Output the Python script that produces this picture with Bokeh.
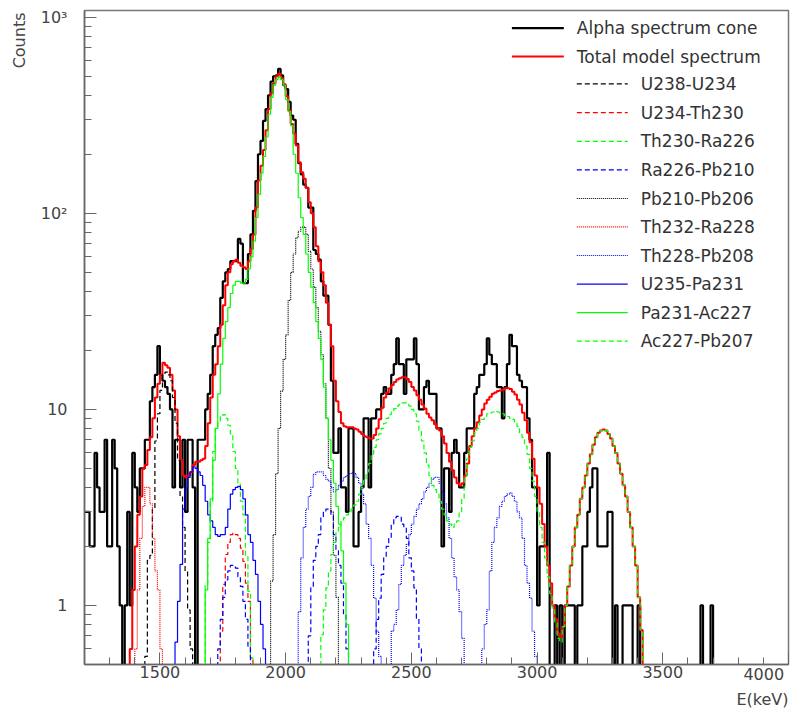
import numpy as np
from bokeh.plotting import figure
from bokeh.models import (Range1d, Label, Title, SingleIntervalTicker,
                          LogTicker, LinearAxis, FixedTicker)
from bokeh.embed import file_html
from bokeh.resources import INLINE

BIN_KEV = 10
E_LO, E_HI = 1200, 4000
Y_LO, Y_HI = 0.5, 1082

# measured alpha spectrum (counts per 10 keV bin, 1200..3990 keV)
data_start = 1200
data_counts = [
    3, 3, 2, 2, 6, 4, 3, 3, 7, 2,
    2, 7, 5, 2, 1, 0, 1, 3, 1, 6,
    4, 3, 5, 5, 7, 7, 11, 13, 15, 21,
    15, 14, 13, 12, 10, 4, 7, 7, 4, 7,
    3, 7, 7, 4, 0, 7, 7, 7, 10, 12,
    15, 21, 24, 26, 37, 45, 50, 52, 57, 57,
    57, 74, 70, 44, 44, 62, 78, 103, 146, 200,
    234, 296, 340, 400, 470, 500, 505, 545, 505, 450,
    430, 370, 315, 300, 226, 180, 158, 140, 135, 107,
    107, 65, 62, 58, 45, 38, 38, 27, 14, 6,
    6, 8, 4, 4, 3, 8, 8, 2, 2, 3,
    4, 9, 9, 4, 9, 9, 10, 10, 12, 13,
    12, 12, 15, 17, 23, 17, 17, 12, 18, 18,
    18, 23, 17, 10, 10, 13, 14, 12, 12, 12,
    8, 8, 2, 5, 5, 3, 6, 7, 6, 4,
    4, 6, 8, 8, 8, 12, 13, 15, 15, 17,
    23, 19, 17, 17, 13, 13, 9, 13, 17, 24,
    21, 21, 15, 14, 13, 13, 9, 7, 4, 4,
    1, 2, 2, 2, 6, 0, 0, 1, 0, 1,
    0, 1, 1, 1, 1, 0, 1, 1, 2, 2,
    3, 4, 5, 5, 2, 2, 2, 2, 3, 3,
    0, 1, 0, 0, 1, 1, 1, 1, 0, 0,
    1, 0, 0, 0, 0, 0, 0, 0, 0, 0,
    0, 0, 0, 0, 0, 0, 0, 0, 0, 0,
    0, 0, 0, 0, 0, 1, 0, 0, 0, 1,
    0, 0, 0, 0, 0, 0, 0, 0, 0, 0,
    0, 0, 0, 0, 0, 0, 0, 0, 0, 0,
    0, 0, 0, 0, 0, 0, 0, 0, 0, 0,
]

# total model spectrum, 1380..3410 keV
total_start = 1380
total_model = [
    0.6, 1.2, 2.0, 2.9, 3.6, 5.0, 5.2, 6.2, 7.2, 9.0,
    11.5, 13.5, 15.0, 17.3, 16.8, 16.3, 15.0, 12.5, 10.0, 7.3,
    5.5, 4.6, 4.5, 4.6, 4.8, 5.2, 5.4, 5.4, 5.5, 5.6,
    6.5, 8.5, 11.5, 15.0, 17.0, 21.0, 27.0, 34.0, 43.0, 50.0,
    55.0, 57.0, 58.0, 56.0, 54.0, 53.0, 52.0, 57.0, 66.0, 78.0,
    107.0, 147.0, 175.0, 210.0, 265.0, 340.0, 410.0, 460.0, 500.0, 515.0,
    490.0, 455.0, 395.0, 335.0, 285.0, 255.0, 222.0, 182.0, 162.0, 150.0,
    135.0, 114.0, 100.0, 85.0, 68.0, 57.0, 50.0, 43.0, 35.0, 27.0,
    21.0, 14.0, 11.0, 9.7, 8.5, 8.2, 8.1, 8.1, 8.1, 8.0,
    7.9, 7.7, 7.5, 7.3, 7.2, 7.1, 7.1, 7.4, 8.0, 8.9,
    10.2, 11.5, 12.2, 12.8, 13.3, 13.8, 14.2, 14.4, 14.6, 14.6,
    14.3, 13.8, 13.0, 12.5, 11.8, 11.2, 10.6, 10.1, 9.5, 9.1,
    8.8, 8.4, 8.0, 7.8, 7.3, 6.7, 6.0, 5.4, 4.9, 4.5,
    4.2, 4.1, 4.2, 4.6, 5.3, 6.5, 7.3, 8.0, 8.6, 9.3,
    10.0, 10.7, 11.2, 11.6, 12.0, 12.2, 12.4, 12.5, 12.6, 12.8,
    12.8, 12.7, 12.3, 11.9, 11.2, 10.6, 9.6, 8.8, 7.6, 6.8,
    5.6, 4.6, 4.0, 3.3, 2.6, 2.0, 1.6, 1.3, 1.0, 0.85,
    0.72, 0.69, 0.78, 1.0, 1.25, 1.6, 2.0, 2.5, 2.9, 3.5,
    4.0, 4.6, 5.3, 5.9, 6.6, 7.2, 7.6, 7.8, 7.9, 7.8,
    7.5, 7.1, 6.5, 6.0, 5.3, 4.7, 4.1, 3.6, 3.0, 2.5,
    2.0, 1.6, 1.1, 0.75,
]

# model components: (first bin keV, values per 10 keV bin)
u238_u234 = [(1440, [0.55, 1.7, 1.8, 3.1, 6.9, 9.5, 12.5, 15.0, 15.5, 15.0,
                     14.0, 11.5, 8.5, 5.5, 3.6, 2.5, 1.5, 0.95, 0.6])]
u234_th230 = [(1740, [0.74, 1.28, 1.82, 2.1, 2.3, 2.34, 2.3, 2.2, 1.96, 1.68,
                      1.3, 1.05, 0.54])]
th230_ra226 = [(1680, [1.27, 2.1, 3.4, 6.1, 8.0, 8.7, 9.2, 9.4, 9.0, 8.3,
                       7.5, 6.1, 5.0, 4.2, 3.4, 2.9, 1.8, 1.18, 0.54])]
ra226_pb210 = [(1730, [0.6, 0.85, 1.1, 1.35, 1.5, 1.6, 1.6, 1.55, 1.4, 1.25,
                       1.05, 0.85, 0.62]),
               (2090, [0.7, 1.23, 1.7, 2.0, 2.3, 2.8, 3.0, 3.1, 3.1, 2.9,
                       2.3, 1.9, 1.6, 1.3, 0.9, 0.6]),
               (2350, [0.6, 0.85, 1.09, 1.44, 1.75, 2.0, 2.2, 2.6, 2.8, 2.85,
                       2.85, 2.6, 2.5, 2.2, 1.75, 1.5, 1.23, 0.86, 0.6])]
pb210_pb206 = [(1940, [1.33, 2.3, 4.7, 8.0, 12.4, 18.0, 24.0, 36.0, 50.0, 62.0,
                       75.0, 81.0, 85.0, 85.0, 78.0, 64.0, 52.0, 42.0, 33.0, 25.0,
                       19.0, 13.5, 9.0, 5.0, 3.0, 1.8, 1.1])]
th232_ra228 = [(1400, [0.6, 1.2, 2.2, 3.2, 4.0, 4.0, 3.3, 2.2, 1.5, 1.2, 0.6])]
th228_pb208 = [(2050, [0.93, 1.75, 2.5, 3.1, 3.6, 4.0, 4.66, 4.8, 4.8, 4.8,
                       4.6, 4.4, 4.3, 4.0, 3.8, 3.9, 4.1, 4.3, 4.5, 4.6,
                       4.7, 4.75, 4.7, 4.5, 4.2, 3.7, 3.3, 2.6, 2.2, 1.6,
                       1.09, 0.74, 0.55]),
               (2420, [0.74, 0.8, 0.95, 1.28, 1.6, 1.8, 2.05, 2.3, 2.6, 2.85,
                       3.1, 3.3, 3.5, 3.8, 4.0, 4.2, 4.4, 4.5, 4.5, 4.2,
                       3.8, 3.3, 2.8, 2.2, 1.75, 1.4, 1.2, 0.93, 0.68]),
               (2780, [0.6, 0.8, 0.95, 1.5, 2.1, 2.5, 2.8, 3.2, 3.4, 3.6,
                       3.7, 3.75, 3.6, 3.4, 3.0, 2.8, 2.2, 1.6, 1.3, 1.09,
                       0.74, 0.55])]
u235_pa231 = [(1560, [0.65, 1.05, 1.62, 3.1, 3.97, 4.5, 4.8, 5.1, 5.0, 4.8,
                      4.6, 4.1, 3.4, 2.9, 2.7, 2.5, 2.3, 2.25, 2.3, 2.3,
                      2.5, 3.1, 3.7, 3.9, 4.0, 4.05, 3.9, 3.5, 2.9, 2.3,
                      2.1, 1.7, 1.44, 1.05, 0.8, 0.6])]
pa231_ac227 = [(1680, [1.2, 2.2, 3.5, 5.5, 8.0, 12.0, 17.0, 23.0, 28.0, 33.0,
                       39.0, 43.0, 45.0, 45.0, 44.0, 44.0, 46.0, 52.0, 60.0, 72.0,
                       95.0, 125.0, 160.0, 195.0, 245.0, 320.0, 390.0, 450.0, 480.0, 495.0,
                       480.0, 450.0, 380.0, 330.0, 280.0, 200.0, 160.0, 120.0, 95.0, 78.0,
                       62.0, 50.0, 42.0, 35.0, 28.0, 23.0, 18.0, 13.0, 9.0, 7.0,
                       5.5, 4.2, 3.2, 2.6, 1.9, 1.3, 0.8])]
ac227_pb207 = [(2140, [0.71, 0.95, 1.23, 1.5, 1.82, 2.1, 2.35, 2.5, 2.7, 2.8,
                       2.9, 3.0, 3.1, 3.25, 3.4, 3.7, 4.0, 4.4, 4.8, 5.3,
                       5.9, 6.4, 7.0, 7.5, 8.0, 8.5, 9.0, 9.4, 9.8, 10.1,
                       10.4, 10.6, 10.8, 10.8, 10.7, 10.4, 10.0, 9.5, 8.7, 7.8,
                       6.9, 6.0, 5.2, 4.6, 4.1, 3.9, 3.7, 3.4, 3.1, 2.9,
                       2.7, 2.6, 2.5, 2.6, 2.7, 3.0, 3.5, 4.5, 5.6, 6.4,
                       6.9, 7.6, 8.0, 8.6, 8.9, 9.2, 9.5, 9.6, 9.7, 9.8,
                       9.7, 9.6, 9.5, 9.3, 9.2, 9.0, 8.9, 8.5, 8.2, 7.6,
                       7.2, 6.5, 5.9, 5.0, 4.3, 3.6, 3.0, 2.5, 2.1, 1.75,
                       1.4, 1.15, 0.95, 0.82, 0.68, 0.65, 0.78, 1.0, 1.25, 1.6,
                       2.0, 2.5, 2.9, 3.5, 4.0, 4.6, 5.3, 5.9, 6.6, 7.2,
                       7.6, 7.8, 7.9, 7.8, 7.5, 7.1, 6.5, 6.0, 5.3, 4.7,
                       4.1, 3.6, 3.0, 2.5, 2.0, 1.6, 1.1, 0.75])]

legend_main = ["Alpha spectrum cone", "Total model spectrum"]
component_names = ["U238-U234", "U234-Th230", "Th230-Ra226", "Ra226-Pb210",
                   "Pb210-Pb206", "Th232-Ra228", "Th228-Pb208", "U235-Pa231",
                   "Pa231-Ac227", "Ac227-Pb207"]
component_data = [u238_u234, u234_th230, th230_ra226, ra226_pb210, pb210_pb206,
                  th232_ra228, th228_pb208, u235_pa231, pa231_ac227, ac227_pb207]

BLACK, RED, GREEN, BLUE = "#000000", "#ff0000", "#00ff00", "#0000ff"
DASH, DOT = "5 3", "1 1"
component_styles = [(BLACK, DASH), (RED, DASH), (GREEN, DASH), (BLUE, DASH),
                    (BLACK, DOT), (RED, DOT), (BLUE, DOT), (BLUE, "solid"),
                    (GREEN, "solid"), (GREEN, DASH)]

# frame geometry in page pixels (layout)
FL, FR, FT, FB = 83, 788, 10, 664

n_bins = (E_HI - E_LO) // BIN_KEV
edges = E_LO + BIN_KEV * np.arange(n_bins + 1)
FLOOR = 1e-2  # below the frame: ROOT draws empty bins at the bottom edge


def full(pieces):
    arr = np.full(n_bins, FLOOR)
    for start, vals in pieces:
        i0 = (start - E_LO) // BIN_KEV
        arr[i0:i0 + len(vals)] = vals
    return np.where(arr > 0, arr, FLOOR)


def px_x(px):  # page pixel -> keV (for legend layout inside the frame)
    return E_LO + (px - FL) * (E_HI - E_LO) / (FR - FL)


def px_y(py):  # page pixel -> counts on the log axis
    return 10 ** (np.log10(Y_LO) + (FB - py) / (FB - FT) * np.log10(Y_HI / Y_LO))


p = figure(width=796, height=713, x_range=Range1d(E_LO, E_HI),
           y_range=Range1d(Y_LO, Y_HI), y_axis_type="log",
           output_backend="svg", toolbar_location=None, title=None,
           min_border_left=FL, min_border_right=796 - FR, min_border_top=FT,
           min_border_bottom=713 - FB)
p.grid.visible = False
p.outline_line_color = "#777777"
p.outline_line_width = 1.5
p.background_fill_color = "white"
p.border_fill_color = "white"


def hist(arr, **kw):
    return p.step(x=edges, y=np.append(arr, arr[-1]), mode="after", **kw)


hist(full([(data_start, data_counts)]), line_color=BLACK, line_width=2.2)
hist(full([(total_start, total_model)]), line_color=RED, line_width=2)
for pieces, (col, dash) in zip(component_data, component_styles):
    hist(full(pieces), line_color=col, line_dash=dash, line_width=1.2)

AX = "#666666"
TXT = "#444444"
for ax in (p.xaxis[0], p.yaxis[0]):
    ax.axis_line_color = AX
    ax.axis_line_width = 1.5
    ax.major_tick_line_color = AX
    ax.minor_tick_line_color = AX
    ax.major_tick_in = 12
    ax.major_tick_out = 0
    ax.minor_tick_in = 7
    ax.minor_tick_out = 0
    ax.major_label_text_font = "DejaVu Sans"
    ax.major_label_text_font_size = "16px"
    ax.major_label_text_color = TXT

p.xaxis.ticker = SingleIntervalTicker(interval=500, num_minor_ticks=5)
p.xaxis.major_label_standoff = 1
p.xaxis.major_label_overrides = {4000: ""}
p.yaxis.ticker = LogTicker(num_minor_ticks=10)
p.yaxis.major_label_overrides = {1: "1", 10: "10", 100: "10²", 1000: "10³"}
p.yaxis.major_label_standoff = 17

# the 4000 label sits at the window's edge: right-aligned copy on the same row
ax_end = LinearAxis(ticker=FixedTicker(ticks=[E_HI]), axis_line_color=None,
                    major_tick_line_color=None, minor_tick_line_color=None,
                    major_label_standoff=-19, major_label_text_align="right",
                    major_label_text_font="DejaVu Sans", major_label_text_font_size="16px",
                    major_label_text_color=TXT)
p.add_layout(ax_end, "below")

p.add_layout(Title(text="Counts", align="right", offset=2, standoff=16,
                   vertical_align="middle",
                   text_font="DejaVu Sans", text_font_size="16px",
                   text_font_style="normal", text_color=TXT), "left")
p.add_layout(Title(text="E(keV)", align="right", standoff=10,
                   text_font="DejaVu Sans", text_font_size="16px",
                   text_font_style="normal", text_color=TXT), "below")

# legend (ROOT TLegend look): key line + label, laid out in page pixels
LEG_TXT = "#333333"
main_keys = [(511, 563, 576, 27.6, BLACK, "solid", 2.2),
             (511, 563, 576, 56.0, RED, "solid", 2.0)]
comp_rows = [83.3, 112.2, 140.8, 169.4, 198.0, 226.4, 255.0, 283.6, 312.2, 340.7]
rows = [(a, b, t, yy, c, d, w) for (a, b, t, yy, c, d, w) in main_keys]
rows += [(576, 627, 640, yy, c, d, 1.2) for yy, (c, d) in zip(comp_rows, component_styles)]
labels = legend_main + component_names
for (x0, x1, xt, yy, col, dash, w), lab in zip(rows, labels):
    p.line(x=[px_x(x0), px_x(x1)], y=[px_y(yy), px_y(yy)], line_color=col,
           line_dash=dash, line_width=w)
    p.add_layout(Label(x=px_x(xt), y=px_y(yy), text=lab, text_align="left",
                       text_baseline="middle", text_font="DejaVu Sans",
                       text_font_size="17px", text_color=LEG_TXT))

open("out.html", "w").write(file_html(p, INLINE))
